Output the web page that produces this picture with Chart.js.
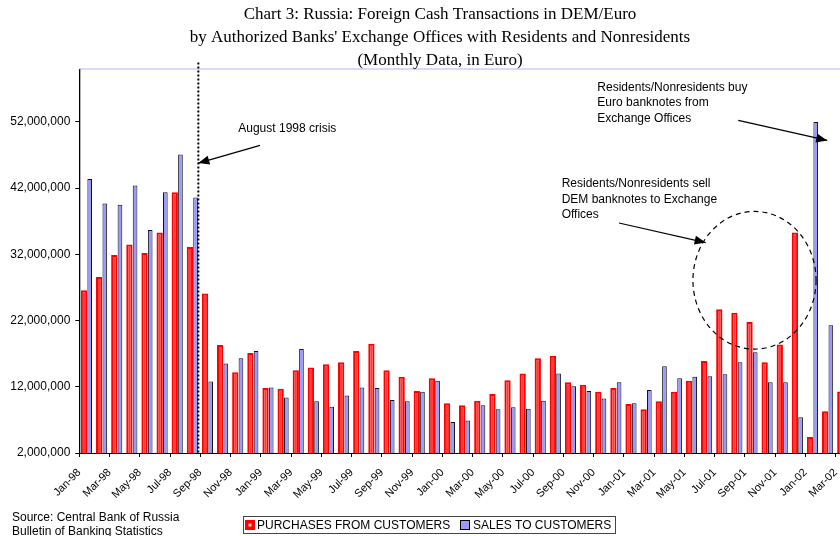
<!DOCTYPE html>
<html><head><meta charset="utf-8">
<script src="https://cdn.jsdelivr.net/npm/chart.js@4.4.1/dist/chart.umd.min.js"></script>
<style>
html,body{margin:0;padding:0;overflow:hidden;background:#fff;width:840px;height:536px}
#wrap{position:absolute;left:0;top:0;width:870px;height:536px}
</style>
</head><body><div id="wrap"><canvas id="c" width="870" height="536"></canvas></div>
<script>
const months = ['Jan-98','Feb-98','Mar-98','Apr-98','May-98','Jun-98','Jul-98','Aug-98','Sep-98','Oct-98','Nov-98','Dec-98',
  'Jan-99','Feb-99','Mar-99','Apr-99','May-99','Jun-99','Jul-99','Aug-99','Sep-99','Oct-99','Nov-99','Dec-99',
  'Jan-00','Feb-00','Mar-00','Apr-00','May-00','Jun-00','Jul-00','Aug-00','Sep-00','Oct-00','Nov-00','Dec-00',
  'Jan-01','Feb-01','Mar-01','Apr-01','May-01','Jun-01','Jul-01','Aug-01','Sep-01','Oct-01','Nov-01','Dec-01',
  'Jan-02','Feb-02','Mar-02'];
const purchases = [26600000,28600000,31900000,33500000,32200000,35300000,41400000,33100000,26100000,18300000,14200000,17100000,
  11800000,11700000,14500000,14900000,15400000,15700000,17400000,18500000,14500000,13500000,11350000,13300000,
  9500000,9200000,9900000,10900000,13000000,14000000,16300000,16700000,12700000,12300000,11250000,11800000,
  9400000,8600000,9800000,11250000,12900000,15900000,23700000,23200000,21800000,15700000,18400000,35300000,
  4400000,8300000,11300000];
const sales = [43400000,39700000,39500000,42400000,35700000,41400000,47100000,40600000,12800000,15500000,16300000,17400000,
  11900000,10400000,17700000,9800000,9000000,10700000,11900000,11800000,10000000,9800000,11250000,12900000,
  6700000,6900000,9200000,8600000,8900000,8700000,9900000,14000000,12100000,11350000,10250000,12700000,
  9500000,11500000,15100000,13300000,13500000,13600000,13900000,15700000,17200000,12700000,12700000,7400000,
  52000000,21300000,14000000];
const yTicks = [2000000,12000000,22000000,32000000,42000000,52000000];
const seriesNames = ['PURCHASES FROM CUSTOMERS','SALES TO CUSTOMERS'];
const titleLines = ['Chart 3: Russia: Foreign Cash Transactions in DEM/Euro',
  "by Authorized Banks' Exchange Offices with Residents and Nonresidents",
  '(Monthly Data, in Euro)'];
const sourceLines = ['Source: Central Bank of Russia','Bulletin of Banking Statistics'];
const crisisNote = ['August 1998 crisis'];
const buyNote = ['Residents/Nonresidents buy','Euro banknotes from','Exchange Offices'];
const sellNote = ['Residents/Nonresidents sell','DEM banknotes to Exchange','Offices'];

function arrow(ctx, x1, y1, x2, y2){
  ctx.beginPath(); ctx.moveTo(x1,y1); ctx.lineTo(x2,y2); ctx.stroke();
  const a = Math.atan2(y2-y1, x2-x1), L = 11, W = 4.5;
  ctx.beginPath();
  ctx.moveTo(x2,y2);
  ctx.lineTo(x2 - L*Math.cos(a) + W*Math.sin(a), y2 - L*Math.sin(a) - W*Math.cos(a));
  ctx.lineTo(x2 - L*Math.cos(a) - W*Math.sin(a), y2 - L*Math.sin(a) + W*Math.cos(a));
  ctx.closePath(); ctx.fill();
}

const annot = {
  id:'annot',
  afterDraw(chart){
    const ctx = chart.ctx, xs = chart.scales.x, ys = chart.scales.y, ca = chart.chartArea;
    const step = xs.getPixelForValue(1) - xs.getPixelForValue(0);
    const X = i => xs.getPixelForValue(0) + i*step;
    const Y = v => ys.getPixelForValue(v);
    ctx.save();
    // top border line
    ctx.strokeStyle = 'rgb(204,204,250)'; ctx.lineWidth = 1.5;
    ctx.beginPath(); ctx.moveTo(ca.left, ca.top); ctx.lineTo(ca.right + 20, ca.top); ctx.stroke();
    ctx.strokeStyle = '#000'; ctx.lineWidth = 1;
    ctx.beginPath(); ctx.moveTo(ca.left+0.5, ca.top); ctx.lineTo(ca.left+0.5, ca.bottom); ctx.stroke();
    // title
    ctx.fillStyle = '#000';
    ctx.font = '17px "Liberation Serif", "Times New Roman", serif';
    ctx.textAlign = 'center'; ctx.textBaseline = 'alphabetic';
    titleLines.forEach((t,k) => ctx.fillText(t, 440, 19 + k*23));
    // crisis dotted line
    ctx.strokeStyle = '#000'; ctx.lineWidth = 2; ctx.setLineDash([2,2]);
    ctx.beginPath(); ctx.moveTo(X(7.37), Y(61000000)); ctx.lineTo(X(7.37), Y(2000000)); ctx.stroke();
    ctx.setLineDash([]);
    // notes
    ctx.font = '12px "Liberation Sans", Arial, sans-serif';
    ctx.textAlign = 'left';
    crisisNote.forEach((t,k) => ctx.fillText(t, X(10.01), Y(50420000) + k*15.4));
    buyNote.forEach((t,k) => ctx.fillText(t, X(33.75), Y(56710000) + k*15.4));
    sellNote.forEach((t,k) => ctx.fillText(t, X(31.39), Y(42120000) + k*15.2));
    ctx.lineWidth = 1.2; ctx.fillStyle = '#000'; ctx.strokeStyle = '#000';
    arrow(ctx, X(11.45), Y(48460000), X(7.37), Y(45790000));
    arrow(ctx, X(43.07), Y(52230000), X(48.95), Y(49210000));
    arrow(ctx, X(35.18), Y(36740000), X(40.91), Y(33780000));
    // dashed ellipse
    ctx.setLineDash([5,4]); ctx.lineWidth = 1.2;
    const cx = X(44.14), cy = Y(28090000);
    ctx.beginPath(); ctx.ellipse(cx, cy, 4.07*step, Y(28090000-10400000)-cy, 0, 0, Math.PI*2); ctx.stroke();
    ctx.setLineDash([]);
    // source
    ctx.font = '12px "Liberation Sans", Arial, sans-serif';
    ctx.fillStyle = '#000';
    sourceLines.forEach((t,k) => ctx.fillText(t, 12, 520.5 + k*14.5));
    // legend
    ctx.strokeStyle = '#444'; ctx.lineWidth = 1;
    ctx.strokeRect(243.5, 516.5, 372, 17);
    ctx.fillStyle = '#ff0000'; ctx.fillRect(245, 520, 10, 10);
    ctx.fillStyle = '#ffd0d0'; ctx.fillRect(248.5, 523.5, 3, 3);
    ctx.fillStyle = '#9999ff'; ctx.fillRect(460.5, 520.5, 9, 9);
    ctx.strokeStyle = '#000'; ctx.strokeRect(460.5, 520.5, 9, 9);
    ctx.fillStyle = '#000';
    ctx.fillText(seriesNames[0], 257, 529);
    ctx.fillText(seriesNames[1], 473, 529);
    ctx.restore();
  }
};

new Chart(document.getElementById('c'), {
  type: 'bar',
  data: {
    labels: months,
    datasets: [
      {label: seriesNames[0], data: purchases, backgroundColor: '#ff3c3c', borderColor: '#ff0000', borderWidth: 2, barPercentage: 1.11},
      {label: seriesNames[1], data: sales, backgroundColor: '#9999ff', borderColor: '#111', borderWidth: 1, barPercentage: 0.82}
    ]
  },
  options: {
    responsive: false, animation: false, events: [],
    layout: {padding: {left: 0, top: 69, right: 19.3, bottom: 0}},
    datasets: {bar: {categoryPercentage: 0.75}},
    plugins: {legend: {display: false}, title: {display: false}, tooltip: {enabled: false}},
    scales: {
      x: {
        offset: true,
        grid: {offset: true, drawOnChartArea: false, tickLength: 4,
          color: c => (c.index % 2 === 0 ? '#000' : 'rgba(0,0,0,0)')},
        border: {color: '#000'},
        ticks: {autoSkip: false, maxRotation: 45, minRotation: 45, labelOffset: -7.56, padding: 9,
          color: '#000', font: {family: '"Liberation Sans", Arial, sans-serif', size: 11},
          callback: (v, i) => (i % 2 === 0 ? months[i] : '')},
        afterFit(s){ s.height = 83; s.paddingLeft = 0; s.paddingRight = 0; }
      },
      y: {
        min: 2000000, max: 60000000,
        afterBuildTicks(s){ s.ticks = yTicks.map(v => ({value: v})); },
        grid: {drawOnChartArea: false, tickLength: 4, color: '#000'},
        border: {color: '#000'},
        ticks: {padding: 5, color: '#000', font: {family: '"Liberation Sans", Arial, sans-serif', size: 12},
          callback: v => Number(v).toLocaleString('en-US')},
        afterFit(s){ s.width = 79.3; s.paddingTop = 0; s.paddingBottom = 0; }
      }
    }
  },
  plugins: [annot]
});
</script>
</body></html>
